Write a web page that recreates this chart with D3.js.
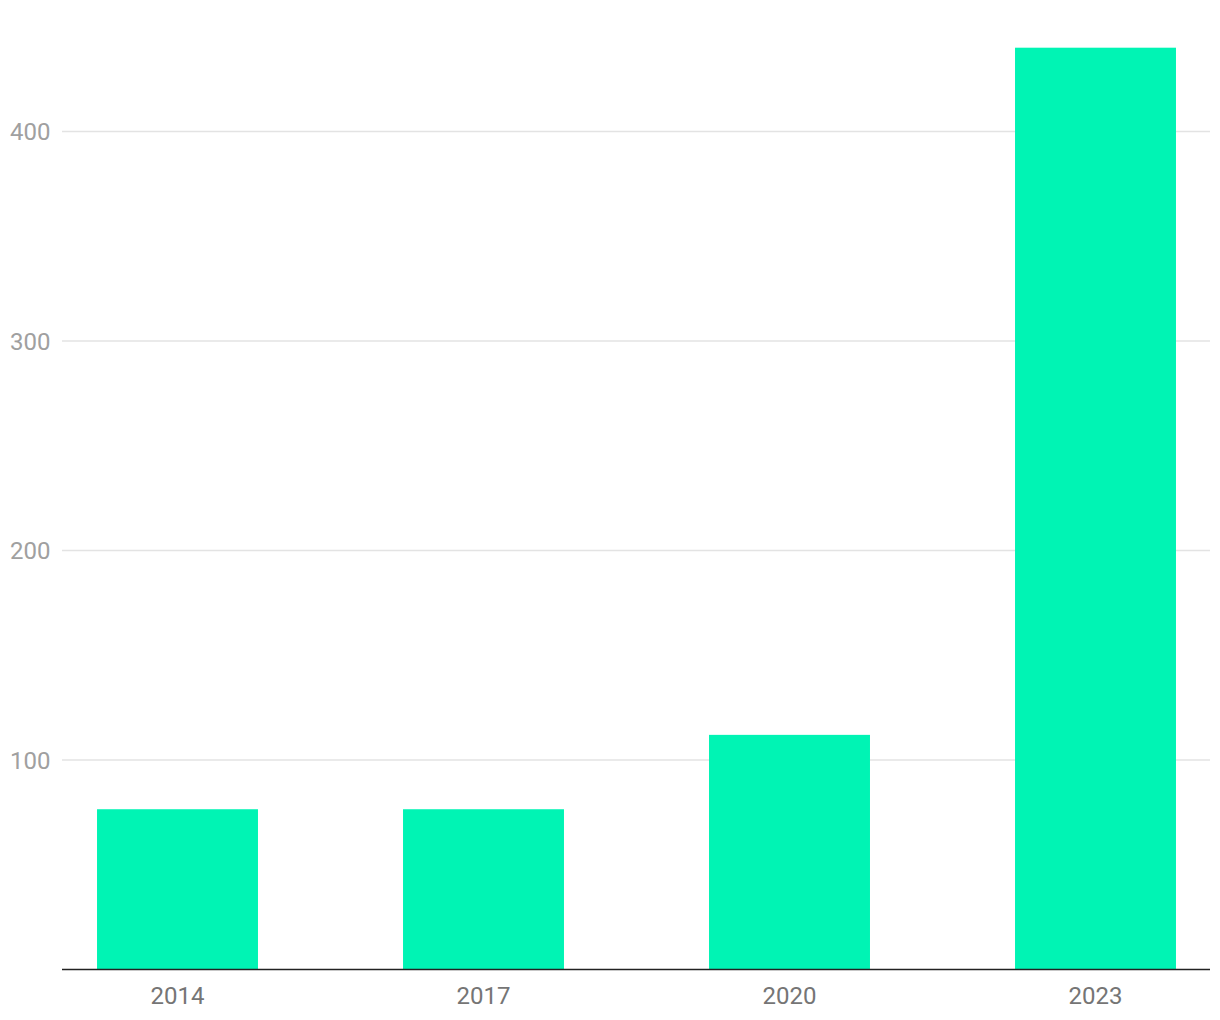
<!DOCTYPE html>
<html><head><meta charset="utf-8">
<script src="https://cdn.jsdelivr.net/npm/d3@7"></script>
<style>body{margin:0;background:#fff;} svg{display:block;font-family:Roboto,sans-serif;}</style>
</head><body>
<svg id="chart" width="1220" height="1020"></svg>
<script>
const categories = ["2014","2017","2020","2023"];
const values = [76.5, 76.5, 112, 440];
const yTicks = [100, 200, 300, 400];

const svg = d3.select("#chart");
const x0 = 62, x1 = 1210, yBase = 969.5;
const y = d3.scaleLinear().domain([0, 100]).range([yBase, 760]);
const x = d3.scaleBand().domain(categories).range([24.5, 1248.5]).paddingInner(0.474).paddingOuter(0.237);

// gridlines
svg.append("g").selectAll("line").data(yTicks).join("line")
  .attr("x1", x0).attr("x2", x1)
  .attr("y1", d => y(d)).attr("y2", d => y(d))
  .attr("stroke", "#e3e3e3").attr("stroke-width", 1.5);

svg.append("g").selectAll("text").data(yTicks).join("text")
  .attr("x", 10).attr("y", d => y(d)).attr("dy", "0.36em")
  .attr("text-anchor", "start").attr("font-size", 24).attr("fill", "#a0a0a0")
  .text(d => d);

svg.append("g").selectAll("rect").data(categories).join("rect")
  .attr("x", d => x(d)).attr("width", x.bandwidth())
  .attr("y", (d, i) => y(values[i])).attr("height", (d, i) => yBase - y(values[i]))
  .attr("fill", "#00f4b4");

svg.append("line").attr("x1", x0).attr("x2", x1).attr("y1", yBase).attr("y2", yBase)
  .attr("stroke", "#222").attr("stroke-width", 1.6);

svg.append("g").selectAll("text").data(categories).join("text")
  .attr("x", d => x(d) + x.bandwidth() / 2).attr("y", 995).attr("dy", "0.36em")
  .attr("text-anchor", "middle").attr("font-size", 24).attr("fill", "#757575")
  .text(d => d);
</script>
</body></html>
